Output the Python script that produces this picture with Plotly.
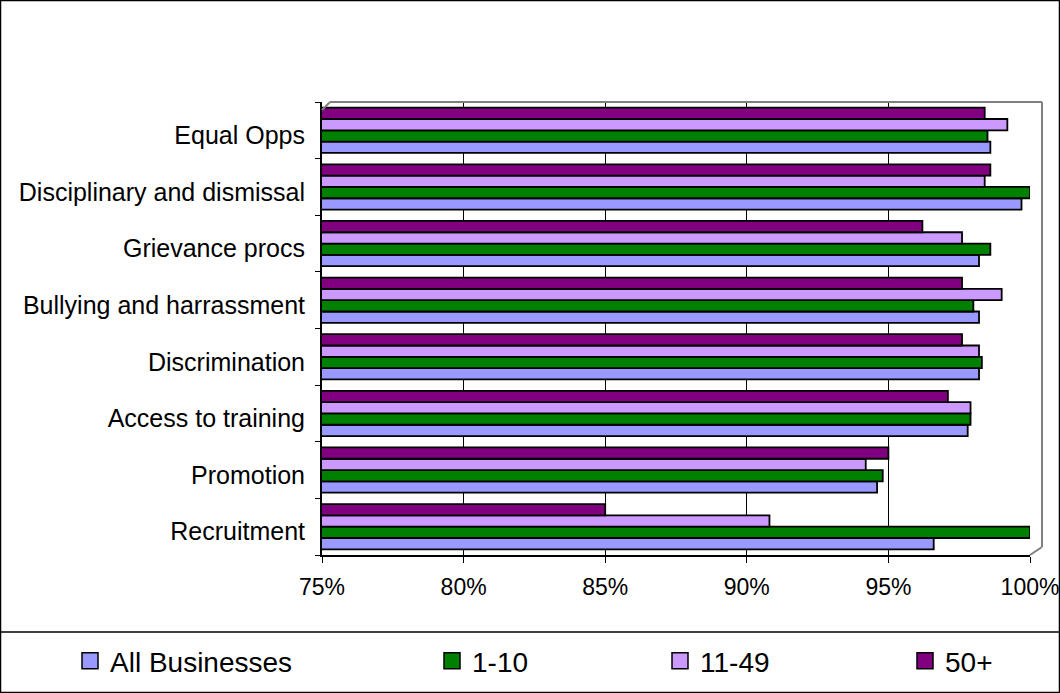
import plotly.graph_objects as go

# categories from bottom to top, as plotly lays them out
categories = ["Recruitment", "Promotion", "Access to training", "Discrimination",
              "Bullying and harrassment", "Grievance procs",
              "Disciplinary and dismissal", "Equal Opps"]

all_businesses = [0.966, 0.946, 0.978, 0.982, 0.982, 0.982, 0.997, 0.986]
size_1_10 = [1.000, 0.948, 0.979, 0.983, 0.980, 0.986, 1.000, 0.985]
size_11_49 = [0.908, 0.942, 0.979, 0.982, 0.990, 0.976, 0.984, 0.992]
size_50_plus = [0.850, 0.950, 0.971, 0.976, 0.976, 0.962, 0.986, 0.984]

series_names = ["All Businesses", "1-10", "11-49", "50+"]
series_values = [all_businesses, size_1_10, size_11_49, size_50_plus]
colors = ["#9999FF", "#008000", "#CC99FF", "#800080"]

W, H = 1060, 693
L, R, T, B = 322, 1030, 102, 555   # plot area in pixels


def px(x):
    return (x - L) / (R - L)


def py(y):
    return (B - y) / (B - T)


FAMILY = "Liberation Sans, Arial, sans-serif"

fig = go.Figure()
legend_ids = ["legend", "legend2", "legend3", "legend4"]
for name, vals, col in zip(series_names, series_values, colors):
    fig.add_trace(go.Bar(
        y=categories, x=vals, name=name, orientation="h",
        marker=dict(color=col, line=dict(color="black", width=1.8)),
        showlegend=False,
    ))

# legend keys: bigger squares than the bar legend symbol allows
for name, col, lg in zip(series_names, colors, legend_ids):
    fig.add_trace(go.Scatter(
        x=[None], y=[None], mode="markers", name=name, legend=lg,
        marker=dict(symbol="square", size=16, color=col,
                    line=dict(color="black", width=1.5)),
    ))

# legend entries sit at uneven spots, so one legend per series
legend_x = [70, 432, 660, 905]
leg = {}
for lg, x in zip(legend_ids, legend_x):
    leg[lg] = dict(x=px(x), y=py(661), xanchor="left", yanchor="middle",
                   orientation="h", itemwidth=30, bgcolor="rgba(0,0,0,0)",
                   font=dict(family=FAMILY, size=28, color="black"))

fig.update_layout(
    width=W, height=H,
    margin=dict(l=L, r=W - R, t=T, b=H - B, autoexpand=False),
    paper_bgcolor="white", plot_bgcolor="white",
    font=dict(family=FAMILY, size=22, color="black"),
    barmode="group", bargap=0.2, bargroupgap=0,
    showlegend=True,
    **leg,
)

fig.update_xaxes(
    range=[0.75, 1.0], tickformat=".0%", dtick=0.05,
    tickfont=dict(size=23),
    showgrid=True, gridcolor="black", gridwidth=1,
    ticks="outside", ticklen=6, tickcolor="black", ticklabelstandoff=4,
    showline=True, linecolor="black", linewidth=2,
    zeroline=False, fixedrange=True,
)
fig.update_yaxes(
    categoryorder="array", categoryarray=categories,
    tickfont=dict(size=25),
    tickson="boundaries", ticks="outside", ticklen=5, tickcolor="black",
    ticklabelstandoff=10, ticklabelshift=5,
    showline=True, linecolor="black", linewidth=2,
    showgrid=False, fixedrange=True,
)

# back wall / floor edges and chart frame
gray = dict(color="#808080", width=2)
shapes = [
    dict(type="line", xref="paper", yref="paper", x0=px(L), x1=px(L + 8),
         y0=py(T + 8), y1=py(T), line=gray),
    dict(type="line", xref="paper", yref="paper", x0=px(L + 8), x1=px(1042),
         y0=py(T), y1=py(T), line=gray),
    dict(type="line", xref="paper", yref="paper", x0=px(1042), x1=px(1042),
         y0=py(T), y1=py(B - 8), line=gray),
    dict(type="line", xref="paper", yref="paper", x0=px(1042), x1=px(R),
         y0=py(B - 8), y1=py(B), line=gray),
    dict(type="rect", xref="paper", yref="paper", x0=px(0.5), x1=px(W - 0.5),
         y0=py(H - 0.5), y1=py(0.5), line=dict(color="black", width=1.5)),
    dict(type="line", xref="paper", yref="paper", x0=px(0), x1=px(W),
         y0=py(632), y1=py(632), line=dict(color="black", width=1.5)),
]
fig.update_layout(shapes=shapes)

fig.write_html("out.html", config={"displayModeBar": False},
               post_script="document.body.style.margin='0px';")
